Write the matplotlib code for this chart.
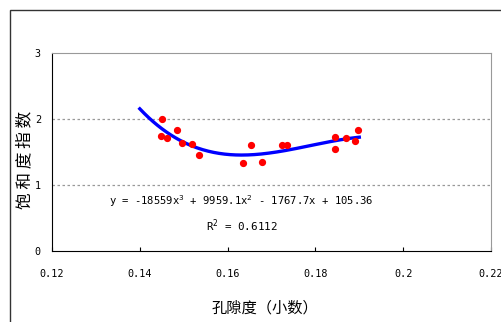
import numpy as np
import matplotlib
matplotlib.use('Agg')
import matplotlib.pyplot as plt
from matplotlib.patches import Rectangle

plt.rcParams['font.family'] = ['Noto Sans CJK SC', 'DejaVu Sans']

# 孔隙度 与 饱和度指数
porosity = [0.1451, 0.1449, 0.1462, 0.1485, 0.1495, 0.1518, 0.1535, 0.1634, 0.1653,
            0.1678, 0.1725, 0.1735, 0.1844, 0.1844, 0.1869, 0.1891, 0.1897]
sat_index = [2.00, 1.75, 1.71, 1.83, 1.64, 1.62, 1.45, 1.33, 1.61,
             1.35, 1.61, 1.61, 1.73, 1.55, 1.71, 1.66, 1.84]

# 三次趋势线系数
coef = [-18559, 9959.1, -1767.7, 105.36]
fit_range = [0.14, 0.19]

x_ticks = [0.12, 0.14, 0.16, 0.18, 0.2, 0.22]
x_labels = ['0.12', '0.14', '0.16', '0.18', '0.2', '0.22']
y_ticks = [0, 1, 2, 3]

fig = plt.figure(figsize=(5.01, 3.22), dpi=100)
W, H = 501, 322
ax = fig.add_axes([52 / W, 1 - 251 / H, (491 - 52) / W, (251 - 53) / H])

# 外框
fig.patches.append(Rectangle((10 / W, -0.1), 1.2, 1 - 10 / H + 0.1,
                             transform=fig.transFigure, fill=False,
                             edgecolor='#333333', linewidth=1.0))

xx = np.linspace(fit_range[0], fit_range[1], 200)
ax.plot(xx, np.polyval(coef, xx), color='#0000ff', linewidth=2.4, zorder=2)
ax.plot(porosity, sat_index, 'o', color='#ff0000', markersize=4.2, zorder=3)

ax.set_xlim(0.12, 0.22)
ax.set_ylim(0, 3)
ax.set_xticks(x_ticks)
ax.set_xticklabels(x_labels, family='DejaVu Sans Mono', fontsize=7.3)
ax.set_yticks(y_ticks)
ax.set_yticklabels([str(v) for v in y_ticks], family='DejaVu Sans Mono', fontsize=7.3)
ax.tick_params(axis='x', direction='in', length=3, pad=13)
ax.tick_params(axis='y', length=0, pad=8)

for v in [1, 2]:
    ax.axhline(v, color='#999999', linestyle=(0, (2, 2)), linewidth=0.9, zorder=1)

ax.spines['top'].set_color('#999999')
ax.spines['right'].set_color('#999999')
for s in ['left', 'bottom']:
    ax.spines[s].set_color('black')

ax.text(0.1632, 0.76, r'y = -18559x$^3$ + 9959.1x$^2$ - 1767.7x + 105.36',
        ha='center', va='center', fontsize=7.6, family='DejaVu Sans Mono')
ax.text(0.1633, 0.39, r'R$^2$ = 0.6112', ha='center', va='center',
        fontsize=7.8, family='DejaVu Sans Mono')

fig.text(25 / W, 1 - 160 / H, '饱 和 度 指 数', rotation=90, ha='center', va='center',
         fontsize=12)
fig.text(265 / W, 1 - 308 / H, '孔隙度（小数）', ha='center', va='center', fontsize=11)

fig.savefig('out.png', dpi=100)
